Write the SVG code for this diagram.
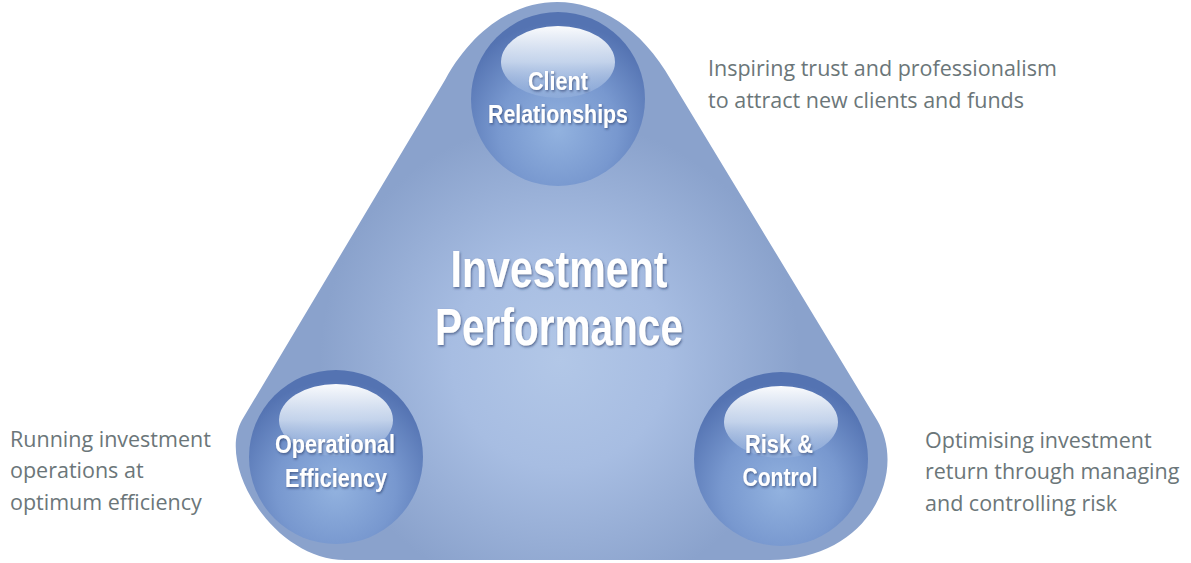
<svg xmlns="http://www.w3.org/2000/svg" width="1191" height="563" viewBox="0 0 1191 563">
  <style>
    .node-label { font-family: "Liberation Sans", "Arial", sans-serif; font-weight: bold; fill: #ffffff; text-anchor: middle; filter: url(#shadow); }
    .title { font-size: 51px; }
    .sub { font-size: 25px; }
    .desc { font-family: "Open Sans", "Noto Sans", "Liberation Sans", sans-serif; font-size: 21.5px; fill: #6b7679; }
  </style>
  <defs>
    <radialGradient id="bgGlow" gradientUnits="userSpaceOnUse" cx="560" cy="360" r="240">
      <stop offset="0" stop-color="#b2c7e7"/>
      <stop offset="0.45" stop-color="#a7bde2"/>
      <stop offset="1" stop-color="#8aa2cc"/>
    </radialGradient>
    <radialGradient id="orb" cx="0.5" cy="0.68" r="0.62">
      <stop offset="0" stop-color="#92b2df"/>
      <stop offset="0.55" stop-color="#7898cf"/>
      <stop offset="1" stop-color="#5473b2"/>
    </radialGradient>
    <linearGradient id="shine" x1="0" y1="0" x2="0" y2="1">
      <stop offset="0" stop-color="#ffffff" stop-opacity="0.97"/>
      <stop offset="0.5" stop-color="#d3e0f2" stop-opacity="0.85"/>
      <stop offset="1" stop-color="#9fb9e0" stop-opacity="0.35"/>
    </linearGradient>
    <filter id="shadow" x="-10%" y="-20%" width="120%" height="150%">
      <feDropShadow dx="1" dy="1.5" stdDeviation="1.2" flood-color="#2b3f6b" flood-opacity="0.65"/>
    </filter>
  </defs>

  <g id="background-shape">
    <path d="M 445 80 C 502 -24 612 -24 671 80 L 877 420 C 908 472 870 560 770 560 L 345 560 C 275 560 216 467 242 420 Z" fill="url(#bgGlow)"/>
  </g>

  <g id="connectors"/>

  <g id="center">
    <text class="node-label title" x="559" y="287" textLength="217" lengthAdjust="spacingAndGlyphs">Investment</text>
    <text class="node-label title" x="559" y="345" textLength="248" lengthAdjust="spacingAndGlyphs">Performance</text>
  </g>

  <g id="node-client">
    <circle cx="558" cy="99" r="87" fill="url(#orb)"/>
    <ellipse cx="558" cy="62" rx="57" ry="36" fill="url(#shine)"/>
    <text class="node-label sub" x="558" y="90" textLength="60" lengthAdjust="spacingAndGlyphs">Client</text>
    <text class="node-label sub" x="558" y="123" textLength="140" lengthAdjust="spacingAndGlyphs">Relationships</text>
    <text class="desc" x="708" y="76">Inspiring trust and professionalism</text>
    <text class="desc" x="708" y="108">to attract new clients and funds</text>
  </g>

  <g id="node-operational">
    <circle cx="336" cy="457" r="87" fill="url(#orb)"/>
    <ellipse cx="336" cy="420" rx="57" ry="36" fill="url(#shine)"/>
    <text class="node-label sub" x="335" y="453" textLength="120" lengthAdjust="spacingAndGlyphs">Operational</text>
    <text class="node-label sub" x="336" y="487" textLength="102" lengthAdjust="spacingAndGlyphs">Efficiency</text>
    <text class="desc" x="10" y="447">Running investment</text>
    <text class="desc" x="10" y="478">operations at</text>
    <text class="desc" x="10" y="510">optimum efficiency</text>
  </g>

  <g id="node-risk">
    <circle cx="781" cy="459" r="87" fill="url(#orb)"/>
    <ellipse cx="781" cy="422" rx="57" ry="36" fill="url(#shine)"/>
    <text class="node-label sub" x="779" y="453" textLength="68" lengthAdjust="spacingAndGlyphs">Risk &amp;</text>
    <text class="node-label sub" x="780" y="486" textLength="75" lengthAdjust="spacingAndGlyphs">Control</text>
    <text class="desc" x="925" y="448">Optimising investment</text>
    <text class="desc" x="925" y="479">return through managing</text>
    <text class="desc" x="925" y="511">and controlling risk</text>
  </g>
</svg>
